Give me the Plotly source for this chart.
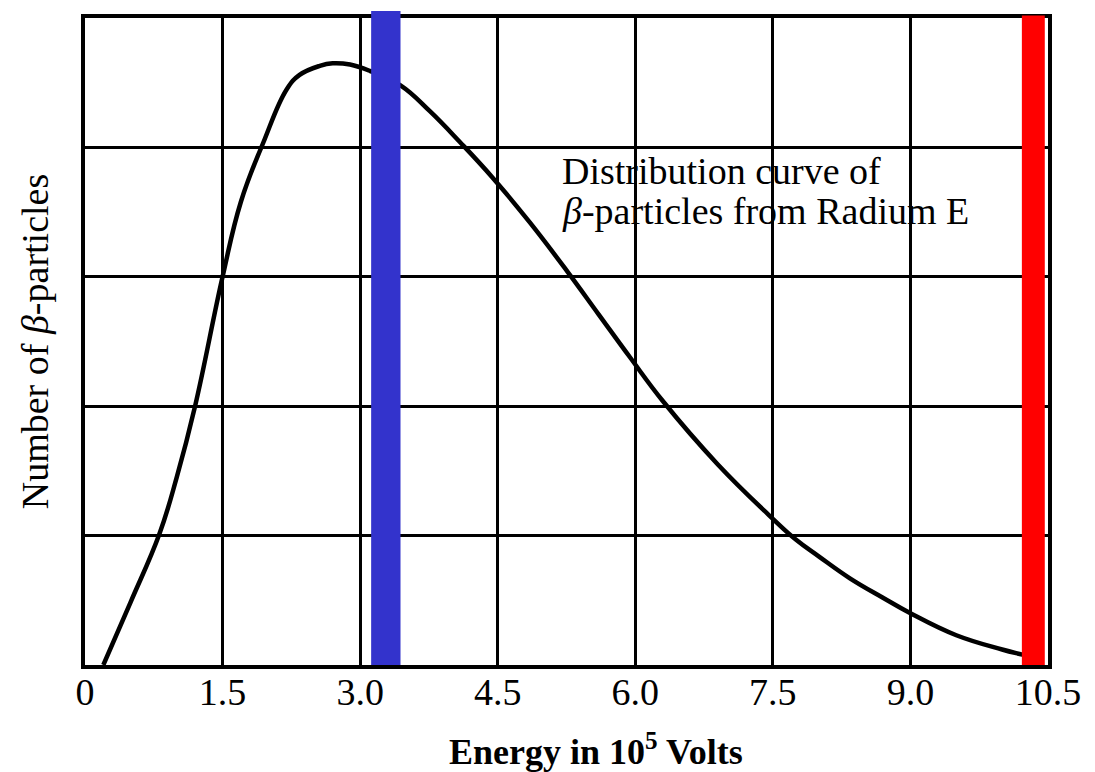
import plotly.graph_objects as go

# Data
energy = [0.20, 0.50, 0.81, 1.00, 1.20, 1.50, 1.70, 1.94, 2.20, 2.34, 2.56,
          2.70, 2.89, 3.11, 3.44, 3.76, 4.09, 4.44, 4.85, 5.26, 5.60, 5.94, 6.30, 6.90,
          7.50, 7.75, 8.00, 8.34, 8.70, 9.00, 9.50, 10.00, 10.22, 10.45]
count = [0.00, 0.49, 1.01, 1.45, 2.00, 3.00, 3.58, 4.03, 4.45, 4.56, 4.63,
         4.65, 4.64, 4.59, 4.48, 4.28, 4.04, 3.77, 3.42, 3.04, 2.71, 2.38, 2.04, 1.55,
         1.13, 0.97, 0.84, 0.67, 0.52, 0.40, 0.23, 0.12, 0.08, 0.04]
x_ticks = [0, 1.5, 3.0, 4.5, 6.0, 7.5, 9.0, 10.5]
x_tick_labels = ["0", "1.5", "3.0", "4.5", "6.0", "7.5", "9.0", "10.5"]
marker_energy = [3.28, 10.34]
marker_colors = ["#3333CC", "#FF0000"]
marker_widths = [0.32, 0.25]
marker_tops = [1.011, 1.004]
note_lines = ["Distribution curve of", "<i>β</i>-particles from Radium E"]

fig = go.Figure()
fig.add_trace(go.Scatter(x=energy, y=count, mode="lines",
                         line=dict(color="black", width=4.5, shape="spline", smoothing=1.2),
                         showlegend=False, hoverinfo="skip"))

for e, c, w, t in zip(marker_energy, marker_colors, marker_widths, marker_tops):
    fig.add_shape(type="rect", xref="x", yref="paper", x0=e - w / 2, x1=e + w / 2,
                  y0=0, y1=t, fillcolor=c, line=dict(width=0), layer="above")

serif = "Liberation Serif"
for i, line in enumerate(note_lines):
    fig.add_annotation(xref="x", yref="y", x=5.18, y=3.82 - i * 0.31,
                       xanchor="left", yanchor="middle", text=line, showarrow=False,
                       font=dict(family=serif, size=38, color="black"))

fig.add_annotation(xref="paper", yref="paper", x=0.531, y=-0.1306,
                   xanchor="center", yanchor="middle", showarrow=False,
                   text="<b>Energy in 10<sup>5</sup> Volts</b>",
                   font=dict(family=serif, size=36, color="black"))

fig.update_layout(
    width=1087, height=764,
    margin=dict(l=77, r=47, t=6, b=107),
    paper_bgcolor="white", plot_bgcolor="white",
    font=dict(family=serif, color="black"),
    xaxis=dict(range=[0, 10.5], tickmode="array", tickvals=x_ticks, ticktext=x_tick_labels,
               showgrid=True, gridcolor="black", gridwidth=3,
               showline=True, linecolor="black", linewidth=3.5, mirror=True,
               zeroline=False, ticks="", tickfont=dict(family=serif, size=38),
               ticklabelstandoff=-9),
    yaxis=dict(range=[0, 5], tickmode="linear", dtick=1, showticklabels=False,
               showgrid=True, gridcolor="black", gridwidth=3,
               showline=True, linecolor="black", linewidth=3.5, mirror=True,
               zeroline=False, ticks="",
               title=dict(text="Number of <i>β</i>-particles",
                          font=dict(family=serif, size=38), standoff=22)),
)

fig.write_html("out.html")
